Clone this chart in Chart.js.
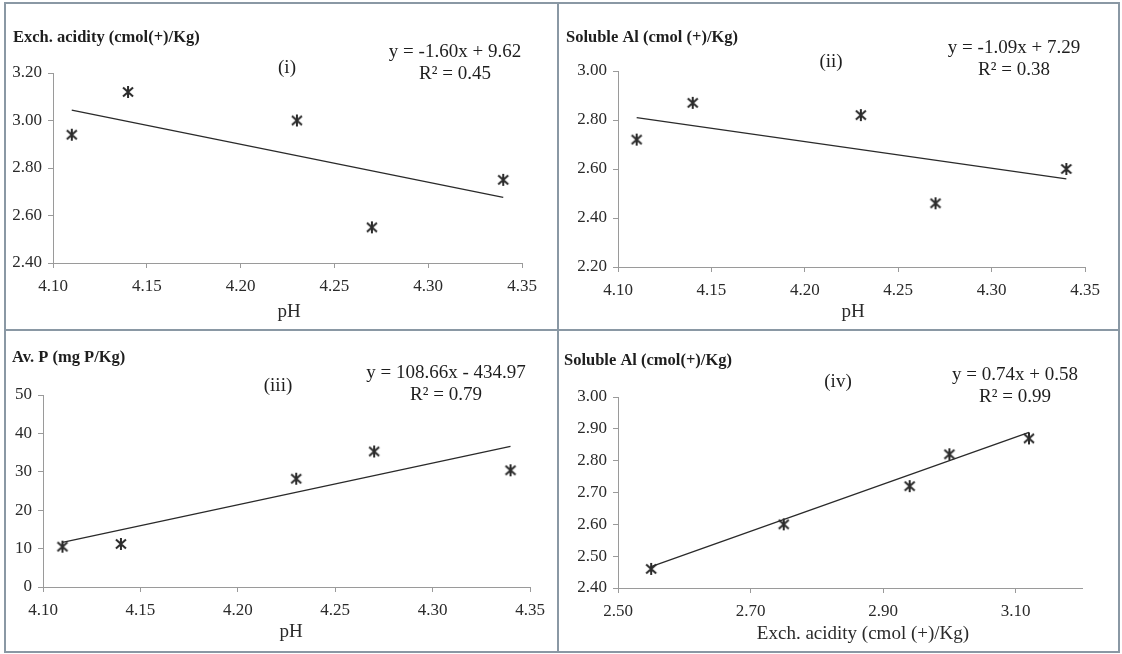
<!DOCTYPE html>
<html>
<head>
<meta charset="utf-8">
<script src="https://cdn.jsdelivr.net/npm/chart.js@4"></script>
<style>
  body { margin: 0; background: #fff; }
  #page { position: relative; width: 1122px; height: 654px; overflow: hidden; }
  canvas { position: absolute; }
  .frame { position: absolute; box-sizing: border-box; border: 2px solid #8a98a4; pointer-events: none; }
</style>
</head>
<body>
<div id="page"></div>
<script>
// measured values
const pH = [4.11, 4.14, 4.23, 4.27, 4.34];
const exchAcidity = [2.94, 3.12, 3.00, 2.55, 2.75];
const solubleAl = [2.72, 2.87, 2.82, 2.46, 2.60];
const avP = [10.5, 11.2, 28.2, 35.3, 30.4];

// trendline coefficients printed on the figure
const slopes = [-1.60, -1.09, 108.66, 0.74];
const intercepts = [9.62, 7.29, -434.97, 0.58];

// axis ticks
const pHTicks = [4.10, 4.15, 4.20, 4.25, 4.30, 4.35];
const acidityTicksY = [2.40, 2.60, 2.80, 3.00, 3.20];
const alTicksY = [2.20, 2.40, 2.60, 2.80, 3.00];
const avPTicks = [0, 10, 20, 30, 40, 50];
const alTicksY4 = [2.40, 2.50, 2.60, 2.70, 2.80, 2.90, 3.00];
const acidityTicksX = [2.50, 2.70, 2.90, 3.10];

const serif = '"Liberation Serif", "Times New Roman", serif';

// asterisk marker
function makeMarker() {
    const c = document.createElement('canvas');
    c.width = 14; c.height = 14;
    const g = c.getContext('2d');
    g.strokeStyle = '#2b2b2b';
    g.lineWidth = 2;
    g.beginPath();
    g.moveTo(2, 2.5); g.lineTo(12, 11.5);
    g.moveTo(12, 2.5); g.lineTo(2, 11.5);
    g.moveTo(7, 1); g.lineTo(7, 13);
    g.stroke();
    return c;
}
const marker = makeMarker();

const panels = [
    {
        box: {x: 5, y: 3, w: 553, h: 327}, area: {l: 53, t: 73, r: 522, b: 263},
        xs: pH, ys: exchAcidity, xTicks: pHTicks, yTicks: acidityTicksY,
        xMin: 4.10, xMax: 4.35, yMin: 2.40, yMax: 3.20, digits: 2,
        title: 'Exch. acidity (cmol(+)/Kg)', titlePos: [13, 38],
        tag: '(i)', tagPos: [287, 68],
        eq: 'y = -1.60x + 9.62', r2: 'R\u00b2 = 0.45', eqPos: [455, 52, 74],
        xTitle: 'pH', xTitlePos: [289, 312]
    },
    {
        box: {x: 558, y: 3, w: 561, h: 327}, area: {l: 618, t: 71, r: 1085, b: 267},
        xs: pH, ys: solubleAl, xTicks: pHTicks, yTicks: alTicksY,
        xMin: 4.10, xMax: 4.35, yMin: 2.20, yMax: 3.00, digits: 2,
        title: 'Soluble Al (cmol (+)/Kg)', titlePos: [566, 38],
        tag: '(ii)', tagPos: [831, 62],
        eq: 'y = -1.09x + 7.29', r2: 'R\u00b2 = 0.38', eqPos: [1014, 48, 70],
        xTitle: 'pH', xTitlePos: [853, 312]
    },
    {
        box: {x: 5, y: 330, w: 553, h: 322}, area: {l: 43, t: 395, r: 530, b: 587},
        xs: pH, ys: avP, xTicks: pHTicks, yTicks: avPTicks,
        xMin: 4.10, xMax: 4.35, yMin: 0, yMax: 50, digits: 0,
        title: 'Av. P (mg P/Kg)', titlePos: [12, 358],
        tag: '(iii)', tagPos: [278, 386],
        eq: 'y = 108.66x - 434.97', r2: 'R\u00b2 = 0.79', eqPos: [446, 373, 395],
        xTitle: 'pH', xTitlePos: [291, 632]
    },
    {
        box: {x: 558, y: 330, w: 561, h: 322}, area: {l: 618, t: 397, r: 1082, b: 588},
        xs: exchAcidity, ys: solubleAl, xTicks: acidityTicksX, yTicks: alTicksY4,
        xMin: 2.50, xMax: 3.20, yMin: 2.40, yMax: 3.00, digits: 2,
        title: 'Soluble Al (cmol(+)/Kg)', titlePos: [564, 361],
        tag: '(iv)', tagPos: [838, 382],
        eq: 'y = 0.74x + 0.58', r2: 'R\u00b2 = 0.99', eqPos: [1015, 375, 397],
        xTitle: 'Exch. acidity (cmol (+)/Kg)', xTitlePos: [863, 634]
    }
];

// draws the free text of each panel
const notesPlugin = {
    id: 'notes',
    afterDraw(chart, args, opts) {
        const ctx = chart.ctx;
        ctx.save();
        ctx.textBaseline = 'middle';
        opts.items.forEach((it) => {
            ctx.font = it.font;
            ctx.fillStyle = it.color || '#1e1e1e';
            ctx.textAlign = it.align || 'center';
            ctx.fillText(it.text, it.x, it.y);
        });
        ctx.restore();
    }
};

const page = document.getElementById('page');

panels.forEach((p, i) => {
    const ox = p.box.x, oy = p.box.y;
    const canvas = document.createElement('canvas');
    canvas.style.left = ox + 'px';
    canvas.style.top = oy + 'px';
    canvas.style.width = p.box.w + 'px';
    canvas.style.height = p.box.h + 'px';
    canvas.width = p.box.w;
    canvas.height = p.box.h;
    page.appendChild(canvas);

    const frame = document.createElement('div');
    frame.className = 'frame';
    frame.style.left = (ox - 1) + 'px';
    frame.style.top = (oy - 1) + 'px';
    frame.style.width = (p.box.w + 2) + 'px';
    frame.style.height = (p.box.h + 2) + 'px';
    page.appendChild(frame);

    const pts = p.xs.map((x, k) => ({x: x, y: p.ys[k]}));
    const x0 = Math.min(...p.xs), x1 = Math.max(...p.xs);
    const trend = [x0, x1].map((x) => ({x: x, y: slopes[i] * x + intercepts[i]}));

    const axisGrid = {display: true, drawOnChartArea: false, drawTicks: true, tickLength: 5, color: '#9a9a9a'};
    const axisBorder = {display: true, color: '#9a9a9a', width: 1};

    new Chart(canvas, {
        type: 'scatter',
        data: {
            datasets: [
                {
                    data: pts,
                    pointStyle: marker,
                    pointRadius: 7,
                    pointHoverRadius: 7
                },
                {
                    data: trend,
                    showLine: true,
                    borderColor: '#2a2a2a',
                    borderWidth: 1.3,
                    pointRadius: 0,
                    pointHoverRadius: 0
                }
            ]
        },
        options: {
            responsive: false,
            animation: false,
            events: [],
            layout: {
                padding: {top: p.area.t - oy, right: ox + p.box.w - p.area.r, left: 0, bottom: 0}
            },
            scales: {
                x: {
                    type: 'linear',
                    min: p.xMin,
                    max: p.xMax,
                    grid: axisGrid,
                    border: axisBorder,
                    afterBuildTicks: (scale) => { scale.ticks = p.xTicks.map((v) => ({value: v})); },
                    afterFit: (scale) => { scale.height = oy + p.box.h - p.area.b; },
                    ticks: {
                        padding: 8,
                        maxRotation: 0,
                        color: '#2a2a2a',
                        font: {family: serif, size: 17},
                        callback: (v) => Number(v).toFixed(2)
                    }
                },
                y: {
                    type: 'linear',
                    min: p.yMin,
                    max: p.yMax,
                    grid: axisGrid,
                    border: axisBorder,
                    afterBuildTicks: (scale) => { scale.ticks = p.yTicks.map((v) => ({value: v})); },
                    afterFit: (scale) => { scale.width = p.area.l - ox; },
                    ticks: {
                        padding: 6,
                        color: '#2a2a2a',
                        font: {family: serif, size: 17},
                        callback: (v) => Number(v).toFixed(p.digits)
                    }
                }
            },
            plugins: {
                legend: {display: false},
                tooltip: {enabled: false},
                notes: {
                    items: [
                        {text: p.title, x: p.titlePos[0] - ox, y: p.titlePos[1] - oy, align: 'left',
                         font: 'bold 16.5px ' + serif},
                        {text: p.tag, x: p.tagPos[0] - ox, y: p.tagPos[1] - oy, font: '19px ' + serif},
                        {text: p.eq, x: p.eqPos[0] - ox, y: p.eqPos[1] - oy, font: '19px ' + serif},
                        {text: p.r2, x: p.eqPos[0] - ox, y: p.eqPos[2] - oy, font: '19px ' + serif},
                        {text: p.xTitle, x: p.xTitlePos[0] - ox, y: p.xTitlePos[1] - oy, font: '19px ' + serif, color: '#2a2a2a'}
                    ]
                }
            }
        },
        plugins: [notesPlugin]
    });
});
</script>
</body>
</html>
